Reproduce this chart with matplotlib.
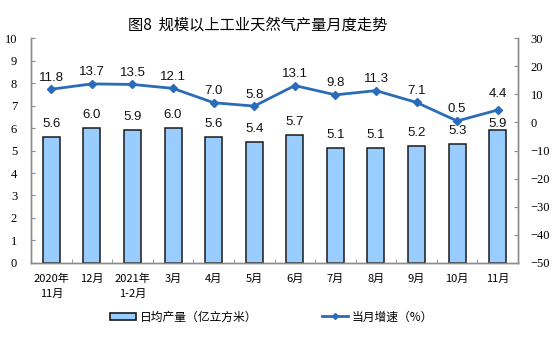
import matplotlib
matplotlib.use("Agg")
import matplotlib.pyplot as plt
import numpy as np
from matplotlib.patches import Patch
from matplotlib.lines import Line2D

plt.rcParams['font.family'] = ['Noto Sans CJK SC', 'DejaVu Sans']

months = ["2020年\n11月", "12月", "2021年\n1-2月", "3月", "4月", "5月",
          "6月", "7月", "8月", "9月", "10月", "11月"]
daily_output = [5.6, 6.0, 5.9, 6.0, 5.6, 5.4, 5.7, 5.1, 5.1, 5.2, 5.3, 5.9]
yoy_growth = [11.8, 13.7, 13.5, 12.1, 7.0, 5.8, 13.1, 9.8, 11.3, 7.1, 0.5, 4.4]

title = "图8  规模以上工业天然气产量月度走势"
bar_name = "日均产量（亿立方米）"
line_name = "当月增速（%）"

bar_color = "#99CCFF"
line_color = "#2B6CB8"
axis_color = "#8C8C8C"

fig = plt.figure(figsize=(5.54, 3.46), dpi=100)
ax = fig.add_axes([0.056, 0.240, 0.879, 0.650])
ax2 = ax.twinx()

x = np.arange(len(months))
ax.bar(x, daily_output, width=0.42, color=bar_color, edgecolor="#1A1A1A",
       linewidth=1.1, zorder=2)
ax.set_xlim(-0.5, len(months) - 0.5)
ax.set_ylim(0, 10)
ax.set_yticks(range(0, 11))

ax2.plot(x, yoy_growth, color=line_color, linewidth=2.0, marker="D",
         markersize=4, zorder=3)
ax2.set_ylim(-50, 30)
ax2.set_yticks(range(-50, 31, 10))

# label offsets in points; the last month is nudged apart to avoid overlap
n = len(months)
bar_offsets = [5] * (n - 1) + [0]
line_offsets = [4] * (n - 1) + [7]

for xi, v, off in zip(x, daily_output, bar_offsets):
    ax.annotate(f"{v:.1f}", (xi, v), xytext=(0, off), textcoords="offset points",
                ha="center", va="bottom", fontsize=9.5,
                family="Liberation Sans", color="#111111")
for xi, v, off in zip(x, yoy_growth, line_offsets):
    ax2.annotate(f"{v:.1f}", (xi, v), xytext=(0, off), textcoords="offset points",
                 ha="center", va="bottom", fontsize=9.5,
                 family="Liberation Sans", color="#111111")

# axes styling
for a in (ax, ax2):
    a.spines["top"].set_visible(False)
    for s in ("left", "right", "bottom"):
        a.spines[s].set_color(axis_color)
        a.spines[s].set_linewidth(1.0)

ax.set_xticks(x)
ax.set_xticklabels(months, fontsize=8, linespacing=1.5)
ax.set_xticks(np.arange(-0.5, len(months), 1.0), minor=True)
ax.tick_params(axis="x", which="major", length=0, pad=8)
ax.tick_params(axis="x", which="minor", direction="in", length=3, color=axis_color)
ax.tick_params(axis="y", direction="in", length=3, color=axis_color, pad=10,
               labelsize=9)
for lbl in ax.get_yticklabels():
    lbl.set_family("Liberation Serif")
ax2.tick_params(axis="y", direction="in", length=3, color=axis_color, pad=9,
                labelsize=9)
for lbl in ax2.get_yticklabels():
    lbl.set_family("Liberation Serif")

fig.text(0.466, 0.928, title, ha="center", va="center", fontsize=11,
         fontweight="medium")

handles = [Patch(facecolor=bar_color, edgecolor="#1A1A1A", linewidth=1.2),
           Line2D([0], [0], color=line_color, linewidth=2.0, marker="D",
                  markersize=3)]
fig.legend(handles, [bar_name, line_name], loc="center",
           bbox_to_anchor=(0.490, 0.084), ncol=2, frameon=False,
           fontsize=8.5, handlelength=2.2, handleheight=0.6,
           handletextpad=0.3, columnspacing=5.5)

fig.savefig("out.png", dpi=100)
